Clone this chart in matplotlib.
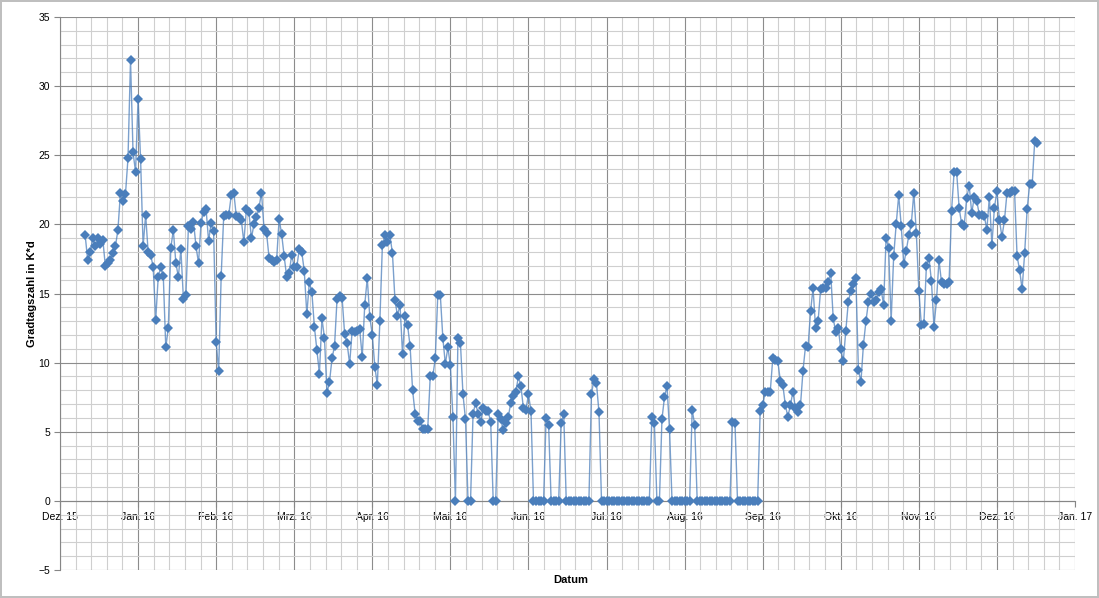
import numpy as np
import matplotlib.pyplot as plt
import matplotlib.dates as mdates
from matplotlib.ticker import FixedLocator, MultipleLocator

# Gradtagszahl je Tag (K*d), Tageswerte ab 11.12.2015
heizperiode_1 = [
    19.2, 17.4, 18.0, 19.0, 18.4, 19.0, 18.6, 18.9, 17.0, 17.2, 17.4, 17.9, 18.4, 19.6,
    22.3, 21.7, 22.2, 24.8, 31.9, 25.2, 23.8, 29.1, 24.7, 18.4, 20.7, 18.0, 17.8, 16.9, 13.1,
    16.2, 16.9, 16.3, 11.1, 12.5, 18.3, 19.6, 17.2, 16.2, 18.2, 14.6, 14.9, 19.9, 19.7,
    20.2, 18.4, 17.2, 20.1, 20.9, 21.1, 18.8, 20.1, 19.5, 11.5, 9.4, 16.3, 20.6, 20.7,
    20.7, 22.1, 22.3, 20.6,
    20.5, 20.3, 18.7, 21.1, 20.9, 19.0, 20.0, 20.5, 21.2, 22.3, 19.7, 19.4, 17.6, 17.4,
    17.3, 17.4, 20.4, 19.3, 17.7, 16.2, 16.5, 17.8, 16.9, 16.9, 18.2, 18.0, 16.6, 13.5,
    15.8, 15.1, 12.6, 10.9, 9.2,
    13.2, 11.8, 7.8, 8.6, 10.3, 11.2, 14.6, 14.8, 14.7, 12.1, 11.4, 9.9, 12.3, 12.2, 12.3,
    12.4, 10.4, 14.2, 16.1, 13.3, 12.0, 9.7, 8.4, 13.0, 18.5, 19.2, 18.7, 19.2, 17.9,
    14.5, 13.4, 14.2,
    10.6, 13.4, 12.7, 11.2, 8.0, 6.3, 5.8, 5.8, 5.2, 5.2, 5.2, 9.0, 9.0, 10.3, 14.9, 14.9,
    11.8, 9.9, 11.1, 9.8, 6.1, 0.0, 11.8, 11.4, 7.7, 5.9, 0.0, 0.0, 6.3, 7.1, 6.3,
]

sommer = [
    5.7, 6.7, 6.5, 6.5, 5.7, 0.0, 0.0, 6.3, 5.9, 5.1, 5.6, 6.1, 7.1, 7.6, 7.9, 9.0, 8.3,
    6.7, 6.6, 7.7, 6.5, 0.0, 0.0, 0.0, 0.0, 0.0, 6.0, 5.5, 0.0, 0.0, 0.0, 0.0, 5.6, 6.3,
    0.0, 0.0, 0.0, 0.0, 0.0, 0.0, 0.0, 0.0, 0.0, 0.0, 7.7, 8.8, 8.5, 6.4,
    0.0, 0.0, 0.0, 0.0, 0.0, 0.0, 0.0, 0.0, 0.0, 0.0, 0.0, 0.0, 0.0, 0.0, 0.0, 0.0,
    0.0, 0.0, 0.0, 0.0, 6.1, 5.6, 0.0, 0.0, 5.9, 7.5, 8.3, 5.2,
    0.0, 0.0, 0.0, 0.0, 0.0, 0.0, 0.0, 0.0, 6.6, 5.5,
    0.0, 0.0, 0.0, 0.0, 0.0, 0.0, 0.0, 0.0, 0.0, 0.0, 0.0, 0.0, 0.0, 0.0, 5.7, 5.6,
    0.0, 0.0, 0.0, 0.0, 0.0, 0.0, 0.0, 0.0, 0.0,
]

heizperiode_2 = [
    6.5, 6.9, 7.9, 7.9, 7.9, 10.3, 10.2, 10.1, 8.7, 8.4, 6.9, 6.1, 6.9, 7.9, 6.7, 6.4, 6.9,
    9.4, 11.2, 11.1, 13.7, 15.4, 12.5, 13.0, 15.3, 15.4, 15.4, 15.8, 16.5, 13.2, 12.2,
    12.5, 11.0, 10.1, 12.3, 14.4, 15.2, 15.7, 16.1, 9.5, 8.6, 11.3, 13.0, 14.4, 15.0,
    14.4, 14.5, 15.1, 15.3, 14.2, 19.0, 18.3, 13.0, 17.7, 20.0, 22.1, 19.9, 17.1, 18.1,
    19.2, 20.0, 22.3, 19.4, 15.2, 12.7, 12.8, 17.0, 17.6, 15.9, 12.6, 14.5, 17.4, 15.8,
    15.7, 15.7, 15.8, 21.0, 23.8, 23.8, 21.2, 20.0, 19.9, 21.9, 22.8, 20.8, 22.0, 21.7,
    20.7, 20.7, 20.6, 19.6, 22.0, 18.5, 21.2, 22.4, 20.3, 19.1, 20.3, 22.3, 22.3, 22.4,
    22.4, 17.7, 16.7, 15.3, 17.9, 21.1, 22.9, 22.9, 26.0, 25.9,
]

monate = ["Jan.", "Feb.", "Mrz.", "Apr.", "Mai.", "Jun.", "Jul.", "Aug.",
          "Sep.", "Okt.", "Nov.", "Dez."]

werte = np.array(heizperiode_1 + sommer + heizperiode_2)
datum = np.arange(np.datetime64("2015-12-11"), np.datetime64("2015-12-11") + len(werte))

# Achse wie im Excel-Diagramm: Hauptintervall 31 Tage, 5 Nebenintervalle
achse_start = np.datetime64("2015-12-01")
achse_ende = achse_start + 13 * 31
haupt = [achse_start + 31 * k for k in range(14)]
neben = [achse_start + np.timedelta64(int(round(31 * k / 5 * 24)), "h") for k in range(66)]

fig = plt.figure(figsize=(10.99, 5.98), dpi=100)
fig.patch.set_edgecolor("#bfbfbf")
fig.patch.set_linewidth(1.5)
ax = fig.add_axes([60 / 1099, 1 - 570 / 598, 1015 / 1099, 553 / 598])

ax.plot(datum, werte, color="#4f81bd", lw=1.0, alpha=0.75, zorder=3)
ax.plot(datum, werte, ls="none", marker="D", ms=4.6, color="#4a7ebb",
        markeredgewidth=0, zorder=4)

ax.set_xlim(mdates.date2num(achse_start), mdates.date2num(achse_ende))
ax.set_ylim(-5, 35)

ax.xaxis.set_major_locator(FixedLocator(mdates.date2num(haupt)))
ax.xaxis.set_minor_locator(FixedLocator(mdates.date2num(neben)))
ax.set_xticklabels([monate[d.astype(object).month - 1] + " " + d.astype(object).strftime("%y")
                    for d in haupt])
ax.yaxis.set_major_locator(MultipleLocator(5))
ax.yaxis.set_minor_locator(MultipleLocator(1))

ax.grid(which="major", color="#8c8c8c", lw=0.8)
ax.grid(which="minor", color="#cfcfcf", lw=0.8)
ax.set_axisbelow(True)

for s in ["top", "right"]:
    ax.spines[s].set_visible(False)
ax.spines["bottom"].set_position(("data", 0))
ax.spines["bottom"].set_color("#868686")
ax.spines["left"].set_color("#868686")
ax.tick_params(which="major", length=4, color="#868686", labelsize=7.5, pad=3)
ax.tick_params(which="minor", length=0)
ax.tick_params(axis="x", pad=4)
for lab in ax.get_xticklabels() + ax.get_yticklabels():
    lab.set_fontfamily("Liberation Sans")

ax.set_ylabel("Gradtagszahl in K*d", fontsize=8, fontweight="bold",
              fontfamily="Liberation Sans", labelpad=1)
fig.text(571 / 1099, 1 - 580 / 598, "Datum", ha="center", va="center",
         fontsize=8, fontweight="bold", fontfamily="Liberation Sans")

fig.savefig("out.png", dpi=100)
